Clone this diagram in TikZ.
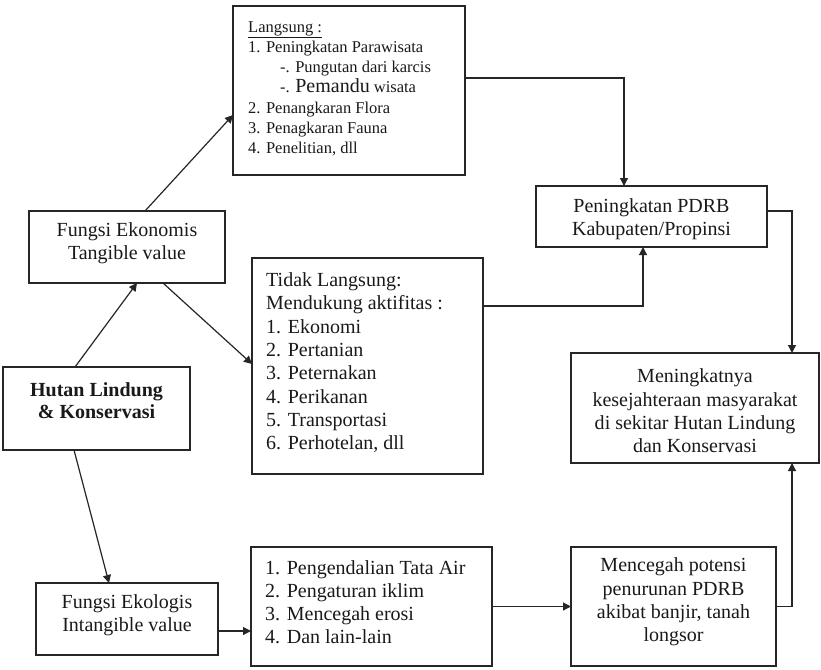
\documentclass[tikz,border=0pt]{standalone}
\usepackage{fontspec}
\setmainfont{Liberation Serif}
\usetikzlibrary{arrows.meta}

\begin{document}
\begin{tikzpicture}[x=1pt,y=-1pt,
  box/.style={draw=black!85, line width=1.2pt, inner sep=0pt, outer sep=0pt},
  txt/.style={inner sep=0pt, font=\fontsize{20}{23.3}\selectfont, text=black!90},
  small/.style={inner sep=0pt, font=\fontsize{16.5}{20.3}\selectfont, text=black!90},
  link/.style={draw=black!85, line width=1.2pt},
  arr/.style={link, -{Triangle[length=8pt,width=8pt]}}
]
\useasboundingbox (0,0) rectangle (821,669);

% boxes
\node[box, minimum width=232pt, minimum height=169pt] (langsung) at (349,90.5) {};
\node[box, minimum width=196pt, minimum height=72pt]  (ekon)     at (127,247) {};
\node[box, minimum width=187pt, minimum height=83pt]  (hutan)    at (96.5,408.5) {};
\node[box, minimum width=231pt, minimum height=216pt] (tidak)    at (367.5,366) {};
\node[box, minimum width=231pt, minimum height=61pt]  (pdrb)     at (651.5,216.5) {};
\node[box, minimum width=248pt, minimum height=110pt] (mening)   at (695,408) {};
\node[box, minimum width=182pt, minimum height=72pt]  (ekolog)   at (127,619) {};
\node[box, minimum width=241pt, minimum height=119pt] (pengen)   at (371.5,606.5) {};
\node[box, minimum width=205pt, minimum height=119pt] (cegah)    at (673.5,606.5) {};

% texts
\node[small, anchor=north west, align=left] (langsungT) at (248,21)
  {\underline{Langsung :}\\
   1. Peningkatan Parawisata\\
   \hspace{32pt}-. Pungutan dari karcis\\
   \hspace{32pt}-. {\fontsize{20}{20}\selectfont Pemandu} wisata\\
   2. Penangkaran Flora\\
   3. Penagkaran Fauna\\
   4. Penelitian, dll};
\node[txt, align=center] (ekonT) at (127,243) {Fungsi Ekonomis\\Tangible value};
\node[txt, align=center, font=\fontsize{20}{22}\selectfont\bfseries] (hutanT) at (96.5,401) {Hutan Lindung\\\& Konservasi};
\node[txt, anchor=north west, align=left] (tidakT) at (266,272.5)
  {Tidak Langsung:\\Mendukung aktifitas :\\1. Ekonomi\\2. Pertanian\\3. Peternakan\\4. Perikanan\\5. Transportasi\\6. Perhotelan, dll};
\node[txt, align=center] (pdrbT) at (651.5,219) {Peningkatan PDRB\\Kabupaten/Propinsi};
\node[txt, align=center] (meningT) at (695,411) {Meningkatnya\\kesejahteraan masyarakat\\di sekitar Hutan Lindung\\dan Konservasi};
\node[txt, align=center] (ekologT) at (127,615) {Fungsi Ekologis\\Intangible value};
\node[txt, anchor=north west, align=left] (pengenT) at (265,560)
  {1. Pengendalian Tata Air\\2. Pengaturan iklim\\3. Mencegah erosi\\4. Dan lain-lain};
\node[txt, align=center] (cegahT) at (673.5,602) {Mencegah potensi\\penurunan PDRB\\akibat banjir, tanah\\longsor};

% connectors
\draw[arr] ([xshift=72pt]hutan.north west) -- ([xshift=108pt]ekon.south west);
\draw[arr] ([xshift=116pt]ekon.north west) -- ([yshift=-109pt]langsung.north west);
\draw[arr] ([xshift=134pt]ekon.south west) -- ([yshift=-106pt]tidak.north west);
\draw[arr] ([xshift=71pt]hutan.south west) -- ([xshift=73pt]ekolog.north west);
\draw[arr] ([yshift=-12pt]ekolog.east) -- ([yshift=-12pt]ekolog.east -| pengen.west);
\draw[arr] (pengen.east) -- (cegah.west);
\draw[arr] (cegah.east) -| ([xshift=-27pt]mening.south east);
\draw[arr] ([yshift=12.5pt]langsung.east) -| ([xshift=88pt]pdrb.north west);
\draw[arr] ([yshift=60pt]tidak.east) -| ([xshift=107pt]pdrb.south west);
\draw[arr] ([yshift=5.5pt]pdrb.east) -| ([xshift=-27pt]mening.north east);
\end{tikzpicture}
\end{document}
